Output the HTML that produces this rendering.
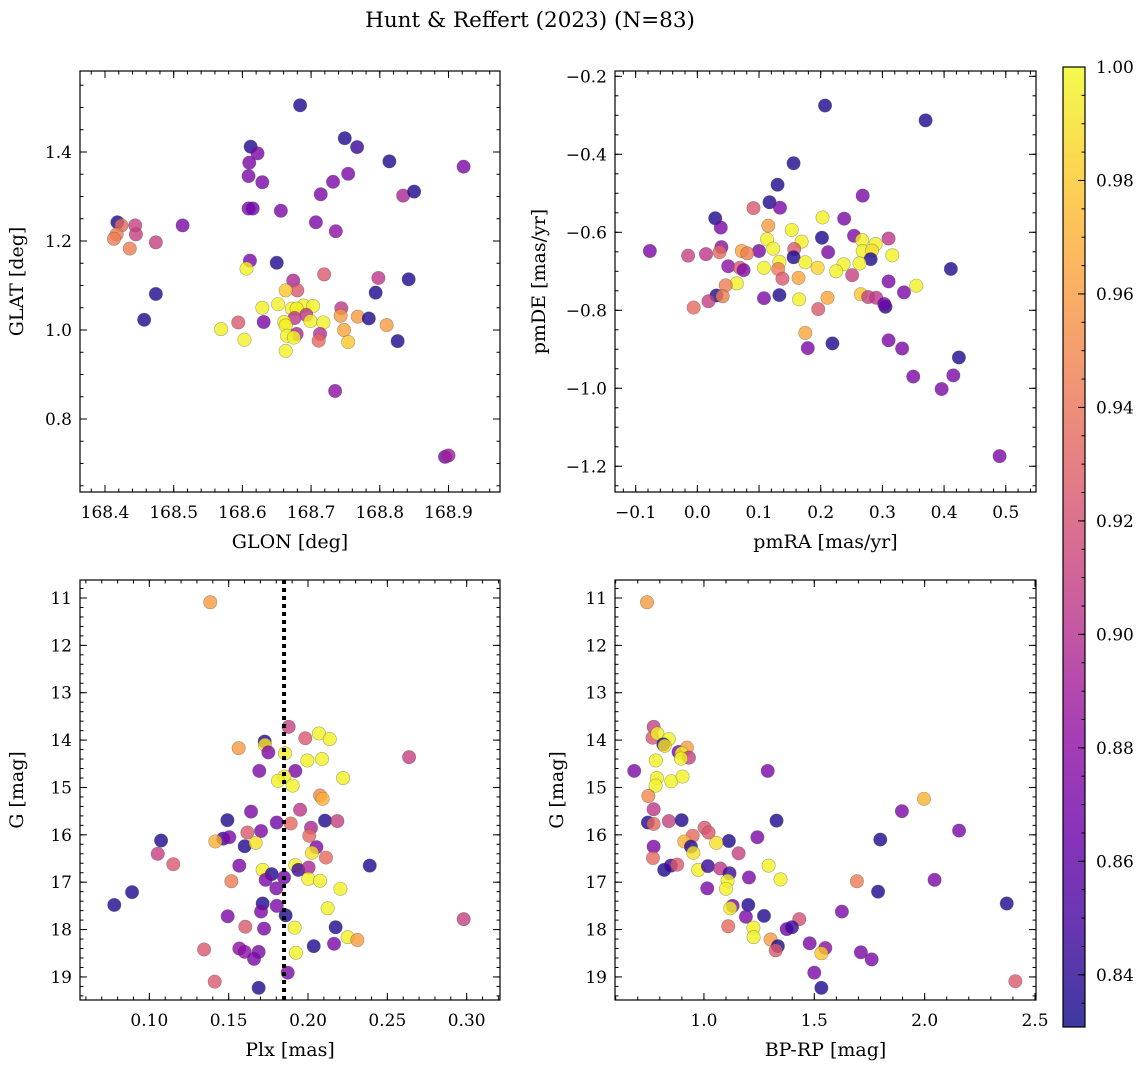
<!DOCTYPE html>
<html><head><meta charset="utf-8"><style>
html,body{margin:0;padding:0;background:#fff;}
svg{display:block;font-family:"DejaVu Serif","Liberation Serif",serif;}
</style></head><body>
<svg id="fig" width="1148" height="1067" viewBox="0 0 1148 1067" xmlns="http://www.w3.org/2000/svg">
<rect width="1148" height="1067" fill="#fff"/>
<text x="530" y="27" text-anchor="middle" font-size="21.5">Hunt &amp; Reffert (2023) (N=83)</text>
<defs>
<linearGradient id="cbg" x1="0" y1="1" x2="0" y2="0">
<stop offset="0" stop-color="#0d0887"/><stop offset="0.1" stop-color="#41049d"/><stop offset="0.2" stop-color="#6a00a8"/><stop offset="0.3" stop-color="#8f0da4"/><stop offset="0.4" stop-color="#b12a90"/><stop offset="0.5" stop-color="#cc4778"/><stop offset="0.6" stop-color="#e16462"/><stop offset="0.7" stop-color="#f2844b"/><stop offset="0.8" stop-color="#fca636"/><stop offset="0.9" stop-color="#fcce25"/><stop offset="1" stop-color="#f0f921"/>
</linearGradient>
</defs>
</svg>
<script>
// ---- data (panel 1: GLON vs GLAT) ----
const glon1=[168.684,168.612,168.622,168.610,168.609,168.629,168.749,168.767,168.814,168.922,168.754,168.732,168.714,168.834,168.850,168.609,168.615,168.656,168.707,168.736,168.513,168.418,168.424,168.444,168.445,168.417,168.413,168.436,168.474,168.611,168.606,168.650,168.719,168.798,168.842,168.674,168.680,168.663,168.794,168.474,168.652,168.629,168.672,168.689,168.703,168.679,168.744,168.743,168.768,168.784,168.693,168.457,168.594,168.631,168.676,168.661,168.699,168.718,168.810,168.569,168.663,168.748,168.713,168.679,168.665,168.675,168.711,168.754,168.603,168.826,168.663,168.735,168.895,168.900];
const glat1=[1.505,1.412,1.397,1.376,1.346,1.332,1.431,1.411,1.379,1.367,1.351,1.333,1.305,1.302,1.311,1.273,1.273,1.268,1.242,1.222,1.235,1.242,1.235,1.235,1.215,1.215,1.205,1.183,1.197,1.156,1.138,1.151,1.125,1.117,1.114,1.111,1.089,1.089,1.084,1.081,1.058,1.050,1.048,1.055,1.054,1.048,1.049,1.032,1.030,1.026,1.034,1.023,1.017,1.018,1.027,1.018,1.020,1.017,1.011,1.002,1.010,1.000,0.991,0.991,0.987,0.983,0.976,0.973,0.978,0.975,0.953,0.863,0.715,0.718];
const prob1=[.836,.836,.872,.872,.872,.872,.836,.845,.836,.872,.872,.872,.872,.895,.836,.872,.868,.872,.872,.88,.872,.836,.935,.91,.91,.945,.945,.945,.91,.872,.997,.836,.925,.905,.836,.895,.925,.98,.836,.836,.997,.997,.997,.997,.997,.997,.905,.96,.96,.836,.905,.836,.925,.872,.905,.997,.997,.997,.96,.997,.997,.965,.9,.895,.997,.997,.935,.98,.997,.836,.997,.88,.872,.89];
// ---- panel 2: pmRA vs pmDE ----
const pmra2=[0.207,0.370,0.156,0.130,0.268,0.117,0.134,0.091,0.029,0.203,0.238,0.038,0.115,0.153,0.202,0.254,0.267,0.310,0.113,0.169,0.289,0.039,-0.077,-0.015,0.014,0.036,0.100,0.123,0.157,0.072,0.081,0.212,0.268,0.283,0.316,0.156,0.281,0.050,0.069,0.075,0.133,0.131,0.175,0.108,0.195,0.237,0.263,0.225,0.411,0.138,0.164,0.251,0.064,0.046,0.310,0.355,0.335,0.031,0.041,0.018,-0.006,0.108,0.133,0.165,0.211,0.265,0.277,0.290,0.305,0.303,0.196,0.175,0.179,0.219,0.310,0.332,0.424,0.350,0.415,0.396,0.490];
const pmde2=[-0.275,-0.313,-0.423,-0.478,-0.506,-0.523,-0.537,-0.538,-0.564,-0.562,-0.565,-0.588,-0.583,-0.594,-0.614,-0.609,-0.620,-0.616,-0.618,-0.624,-0.630,-0.638,-0.648,-0.660,-0.656,-0.651,-0.648,-0.642,-0.643,-0.648,-0.654,-0.651,-0.648,-0.647,-0.659,-0.664,-0.669,-0.687,-0.691,-0.697,-0.676,-0.694,-0.677,-0.691,-0.691,-0.682,-0.680,-0.700,-0.694,-0.719,-0.717,-0.710,-0.731,-0.736,-0.726,-0.737,-0.754,-0.762,-0.764,-0.777,-0.793,-0.769,-0.761,-0.772,-0.768,-0.759,-0.766,-0.768,-0.791,-0.784,-0.797,-0.858,-0.897,-0.885,-0.877,-0.898,-0.921,-0.970,-0.967,-1.002,-1.174];
const prob2=[.836,.836,.836,.836,.872,.836,.872,.925,.836,.997,.872,.872,.96,.997,.836,.875,.997,.905,.997,.997,.997,.88,.872,.91,.905,.935,.872,.997,.925,.965,.945,.872,.997,.99,.997,.836,.836,.88,.925,.875,.997,.945,.997,.997,.985,.997,.997,.997,.836,.925,.965,.91,.997,.945,.872,.997,.872,.836,.945,.91,.935,.872,.836,.997,.965,.98,.91,.905,.836,.868,.925,.965,.872,.836,.872,.872,.836,.872,.872,.872,.872];
// ---- panel 3: Plx vs G ----
const plx3=[0.1384,0.1878,0.1983,0.2069,0.2137,0.1727,0.1729,0.1750,0.1563,0.1855,0.1996,0.2088,0.2637,0.1693,0.1920,0.1851,0.1811,0.1903,0.2221,0.2076,0.2092,0.1641,0.1950,0.1492,0.1803,0.1891,0.2107,0.2185,0.1618,0.1704,0.2019,0.2008,0.1074,0.1466,0.1504,0.1416,0.1601,0.1670,0.2053,0.2025,0.1053,0.1151,0.2113,0.1567,0.1920,0.1939,0.2004,0.2389,0.1714,0.1771,0.1733,0.1849,0.1517,0.2002,0.2076,0.2204,0.1800,0.0891,0.0779,0.1714,0.1704,0.1803,0.2124,0.1494,0.1859,0.2981,0.1605,0.1723,0.1916,0.2174,0.2250,0.2311,0.2164,0.2036,0.1924,0.1345,0.1567,0.1601,0.1689,0.1660,0.1872,0.1412,0.1689];
const g3=[11.09,13.72,13.96,13.86,13.98,14.03,14.10,14.26,14.17,14.28,14.43,14.40,14.36,14.65,14.65,14.77,14.86,14.96,14.80,15.17,15.24,15.51,15.47,15.69,15.74,15.76,15.70,15.71,15.95,15.92,15.85,16.02,16.12,16.08,16.05,16.14,16.24,16.17,16.26,16.38,16.40,16.62,16.48,16.65,16.64,16.74,16.69,16.65,16.74,16.83,16.95,16.90,16.98,16.93,16.97,17.14,17.13,17.21,17.48,17.45,17.62,17.50,17.55,17.72,17.70,17.78,17.94,17.98,17.96,17.95,18.16,18.22,18.30,18.35,18.49,18.42,18.40,18.47,18.47,18.62,18.91,19.10,19.23];
const prob3=[.96,.91,.925,.997,.997,.836,.99,.872,.96,.997,.997,.997,.91,.872,.872,.997,.997,.997,.997,.95,.97,.872,.905,.836,.868,.935,.836,.91,.925,.872,.895,.935,.836,.845,.872,.97,.836,.99,.872,.99,.91,.925,.935,.872,.997,.845,.895,.836,.997,.836,.872,.868,.945,.997,.997,.997,.872,.836,.836,.836,.872,.872,.997,.872,.836,.91,.925,.872,.997,.836,.997,.96,.872,.836,.997,.925,.88,.88,.872,.872,.872,.925,.836];
const plxLine=[0.1849];
// ---- panel 4: BP-RP vs G ----
const bprp4=[0.742,0.772,0.767,0.789,0.841,0.816,0.822,0.885,0.923,0.899,0.932,0.896,0.782,0.684,1.289,0.787,0.852,0.903,0.781,0.748,1.997,1.897,0.772,0.746,0.772,0.841,0.899,1.329,1.003,1.021,2.156,0.949,1.242,1.113,1.799,0.911,0.941,1.056,0.772,0.952,1.157,0.769,0.820,0.850,0.879,0.974,1.018,1.074,1.116,1.293,1.204,1.107,1.347,1.693,2.045,1.015,1.100,1.789,2.372,1.130,1.119,1.201,1.625,1.190,1.272,1.432,1.375,1.399,1.110,1.224,1.225,1.302,1.335,1.325,1.479,1.550,1.532,1.711,1.760,1.500,1.532,2.411];
const g4=[11.09,13.72,13.95,13.86,13.98,14.09,14.12,14.25,14.16,14.28,14.37,14.39,14.43,14.65,14.65,14.80,14.87,14.77,14.96,15.18,15.24,15.50,15.46,15.74,15.77,15.71,15.69,15.70,15.85,15.95,15.91,16.02,16.05,16.13,16.10,16.14,16.25,16.17,16.25,16.38,16.39,16.49,16.74,16.65,16.63,16.74,16.66,16.71,16.81,16.65,16.90,16.97,16.94,16.98,16.95,17.13,17.14,17.20,17.45,17.50,17.55,17.48,17.62,17.73,17.71,17.78,17.99,17.95,17.93,17.96,18.16,18.21,18.35,18.44,18.29,18.39,18.50,18.48,18.63,18.91,19.23,19.09];
const prob4=[.96,.91,.925,.997,.997,.836,.99,.872,.96,.997,.91,.997,.997,.872,.872,.997,.997,.997,.997,.95,.97,.872,.905,.836,.935,.91,.836,.836,.925,.925,.872,.935,.872,.836,.836,.97,.836,.99,.872,.99,.91,.935,.836,.845,.925,.997,.845,.905,.845,.997,.872,.997,.997,.945,.872,.872,.997,.836,.836,.872,.997,.836,.872,.872,.836,.92,.868,.845,.935,.997,.997,.96,.836,.925,.872,.88,.98,.872,.872,.872,.836,.925];
// colorbar ticks
const cbTicks=[0.84,0.86,0.88,0.90,0.92,0.94,0.96,0.98,1.00];

const NS="http://www.w3.org/2000/svg";
const svg=document.getElementById('fig');
const VMIN=0.8308,VMAX=1.0;
const stops=[[13,8,135],[65,4,157],[106,0,168],[143,13,164],[177,42,144],[204,71,120],[225,100,98],[242,132,75],[252,166,54],[252,206,37],[240,249,33]];
function plasma(v){let t=(v-VMIN)/(VMAX-VMIN);t=Math.max(0,Math.min(1,t))*10;const i=Math.min(9,Math.floor(t)),f=t-i;const a=stops[i],b=stops[i+1];return 'rgb('+a.map((c,k)=>Math.round(c+(b[k]-c)*f)).join(',')+')';}
function mk(tag,attrs,parent){const e=document.createElementNS(NS,tag);for(const k in attrs)e.setAttribute(k,attrs[k]);(parent||svg).appendChild(e);return e;}
function fmt(v,d){const s=v.toFixed(d);return s.replace('-','\u2212');}
function range(a,b,s){const r=[];for(let v=a;v<=b+1e-9;v+=s)r.push(+v.toFixed(6));return r;}
const TF=17, LF=19;

function panel(o){
  const g=mk('g',{});
  
  
  const sx=v=>o.x0+(v-o.xmin)/(o.xmax-o.xmin)*(o.x1-o.x0);
  const sy=o.inv?(v=>o.y0+(v-o.ymin)/(o.ymax-o.ymin)*(o.y1-o.y0)):(v=>o.y1-(v-o.ymin)/(o.ymax-o.ymin)*(o.y1-o.y0));
  const pg=mk('g',{},g);
  
  
  for(let i=0;i<o.xs.length;i++){
    const c=mk('circle',{cx:sx(o.xs[i]).toFixed(2),cy:sy(o.ys[i]).toFixed(2),r:6.7,fill:plasma(o.cs[i]),'fill-opacity':0.8,stroke:'#444','stroke-opacity':0.45,'stroke-width':0.6},pg);
    
    
  }
  if(o.vline){for(const v of o.vline){const l=mk('line',{x1:sx(v),x2:sx(v),y1:o.y0,y2:o.y1,stroke:'#000','stroke-width':4,'stroke-dasharray':'4 4'},g);
    
    }}
  const fr=mk('rect',{x:o.x0,y:o.y0,width:o.x1-o.x0,height:o.y1-o.y0,fill:'none',stroke:'#000','stroke-width':1.2},g);
  
  
  const tg=mk('g',{stroke:'#000','stroke-width':1},g);
  const xmaj=range(o.xt[0],o.xt[1],o.xt[2]),xmin=range(o.xm[0],o.xm[1],o.xm[2]);
  const ymaj=range(o.yt[0],o.yt[1],o.yt[2]),ymin=range(o.ym[0],o.ym[1],o.ym[2]);
  const inX=v=>v>=Math.min(o.xmin,o.xmax)-1e-9&&v<=Math.max(o.xmin,o.xmax)+1e-9;
  const inY=v=>v>=o.ymin-1e-9&&v<=o.ymax+1e-9;
  for(const v of xmin)if(inX(v)){const x=sx(v);mk('line',{x1:x,x2:x,y1:o.y1,y2:o.y1-3.5},tg);mk('line',{x1:x,x2:x,y1:o.y0,y2:o.y0+3.5},tg);}
  for(const v of ymin)if(inY(v)){const y=sy(v);mk('line',{x1:o.x0,x2:o.x0+3.5,y1:y,y2:y},tg);mk('line',{x1:o.x1,x2:o.x1-3.5,y1:y,y2:y},tg);}
  for(const v of xmaj)if(inX(v)){const x=sx(v);mk('line',{x1:x,x2:x,y1:o.y1,y2:o.y1-7},tg);mk('line',{x1:x,x2:x,y1:o.y0,y2:o.y0+7},tg);
    const t=mk('text',{x:x,y:o.y1+26,'text-anchor':'middle','font-size':TF},g);t.textContent=fmt(v,o.xd);
    
    }
  for(const v of ymaj)if(inY(v)){const y=sy(v);mk('line',{x1:o.x0,x2:o.x0+7,y1:y,y2:y},tg);mk('line',{x1:o.x1,x2:o.x1-7,y1:y,y2:y},tg);
    const t=mk('text',{x:o.x0-8,y:y+6,'text-anchor':'end','font-size':TF},g);t.textContent=fmt(v,o.yd);
    
    }
  const xl=mk('text',{x:(o.x0+o.x1)/2,y:o.y1+56,'text-anchor':'middle','font-size':LF},g);xl.textContent=o.xlabel;
  
  
  const yl=mk('text',{x:0,y:0,'text-anchor':'middle','font-size':LF,transform:`translate(${o.ylx},${(o.y0+o.y1)/2}) rotate(-90)`},g);yl.textContent=o.ylabel;
  
  
}

panel({name:'glon-glat-panel',xs:glon1,ys:glat1,cs:prob1,x0:80,x1:500,y0:71,y1:492,xmin:168.3636,xmax:168.975,ymin:0.636,ymax:1.582,
  xt:[168.4,168.9,0.1],xm:[168.36,168.98,0.02],yt:[0.8,1.4,0.2],ym:[0.65,1.55,0.05],xd:1,yd:1,xlabel:'GLON [deg]',ylabel:'GLAT [deg]',ylx:23});
panel({name:'proper-motion-panel',xs:pmra2,ys:pmde2,cs:prob2,x0:615,x1:1036,y0:71,y1:492,xmin:-0.1335,xmax:0.549,ymin:-1.266,ymax:-0.1864,
  xt:[-0.1,0.5,0.1],xm:[-0.12,0.54,0.02],yt:[-1.2,-0.2,0.2],ym:[-1.25,-0.2,0.05],xd:1,yd:1,xlabel:'pmRA [mas/yr]',ylabel:'pmDE [mas/yr]',ylx:545});
panel({name:'parallax-magnitude-panel',xs:plx3,ys:g3,cs:prob3,vline:plxLine,inv:true,x0:80,x1:500,y0:580,y1:1000,xmin:0.0563,xmax:0.321,ymin:10.62,ymax:19.487,
  xt:[0.10,0.30,0.05],xm:[0.06,0.32,0.01],yt:[11,19,1],ym:[10.8,19.4,0.2],xd:2,yd:0,xlabel:'Plx [mas]',ylabel:'G [mag]',ylx:23});
panel({name:'color-magnitude-panel',xs:bprp4,ys:g4,cs:prob4,inv:true,x0:615,x1:1036,y0:580,y1:1000,xmin:0.597,xmax:2.5045,ymin:10.62,ymax:19.487,
  xt:[1.0,2.5,0.5],xm:[0.6,2.5,0.1],yt:[11,19,1],ym:[10.8,19.4,0.2],xd:1,yd:0,xlabel:'BP-RP [mag]',ylabel:'G [mag]',ylx:563});

const cb=mk('g',{});


const CX0=1063,CX1=1085,CY0=67,CY1=1027;
const cy=v=>CY1-(v-VMIN)/(VMAX-VMIN)*(CY1-CY0);
mk('rect',{x:CX0,y:CY0,width:CX1-CX0,height:CY1-CY0,fill:'url(#cbg)','fill-opacity':0.8},cb);
mk('rect',{x:CX0,y:CY0,width:CX1-CX0,height:CY1-CY0,fill:'none',stroke:'#000','stroke-width':1.2},cb);
for(let v=0.835;v<=1.0001;v+=0.005){const y=cy(v);mk('line',{x1:CX1,x2:CX1-3.5,y1:y,y2:y,stroke:'#000'},cb);}
for(const v of cbTicks){const y=cy(v);mk('line',{x1:CX1,x2:CX1-7,y1:y,y2:y,stroke:'#000'},cb);
  const t=mk('text',{x:CX1+11,y:y+6,'font-size':TF},cb);t.textContent=v.toFixed(2);
  
  }
</script>
</body></html>
